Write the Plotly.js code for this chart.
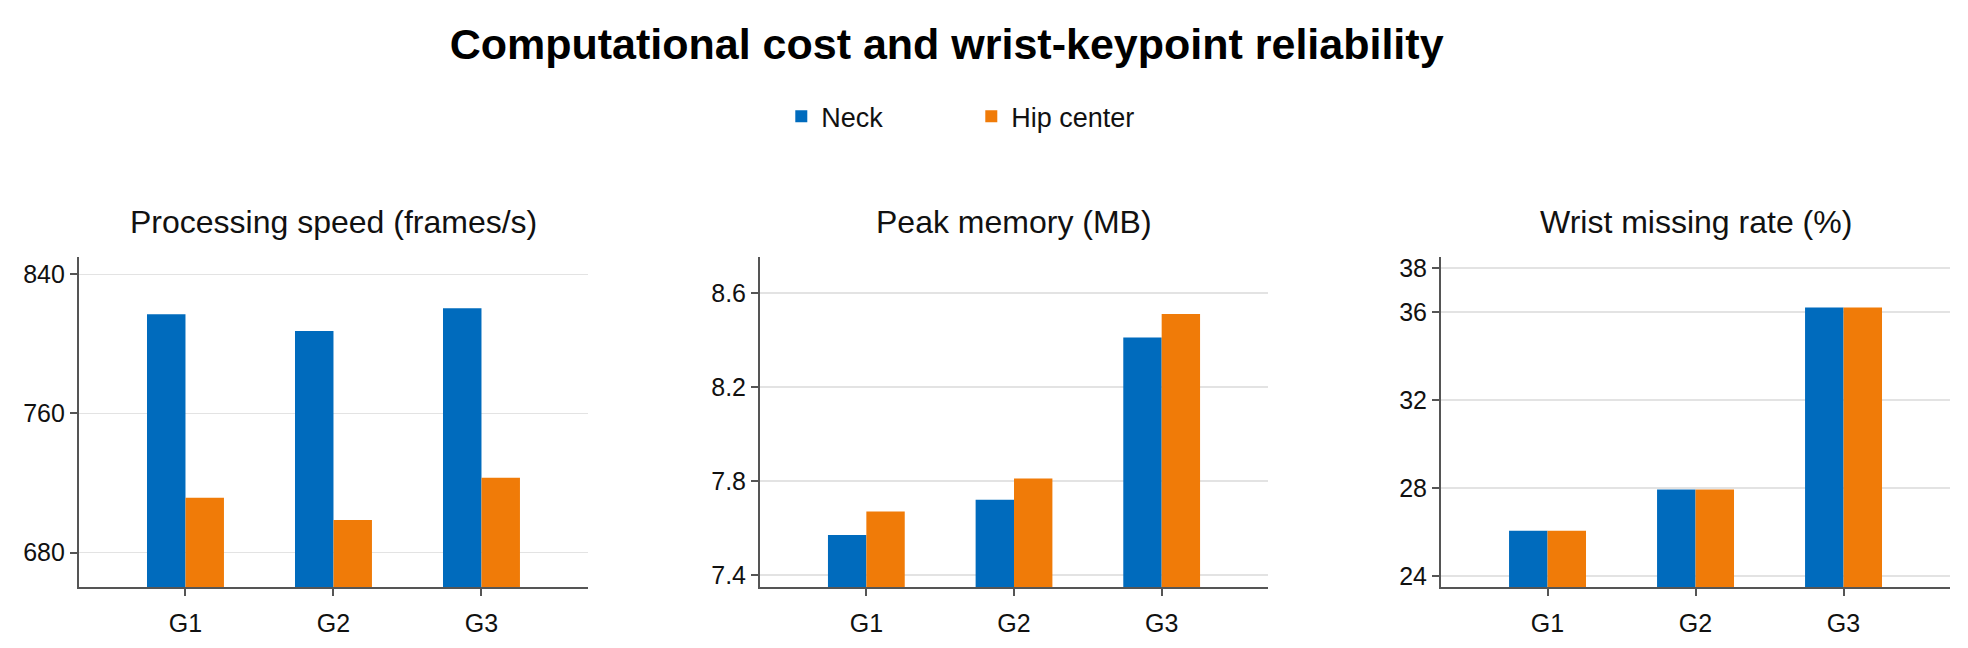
<!DOCTYPE html>
<html>
<head>
<meta charset="utf-8">
<script src="https://cdn.plot.ly/plotly-3.0.1.min.js"></script>
<style>
  html, body { margin: 0; padding: 0; background: #fff; }
  #plot { width: 1968px; height: 648px; }
</style>
</head>
<body>
<div id="plot"></div>
<script>
// Data
const groups = ['G1', 'G2', 'G3'];
const seriesNames = ['Neck', 'Hip center'];

const speedNeck = [817.0, 807.4, 820.5];
const speedHip = [711.6, 698.8, 723.1];

const memNeck = [7.57, 7.72, 8.41];
const memHip = [7.67, 7.81, 8.51];

const missNeck = [26.06, 27.94, 36.21];
const missHip = [26.06, 27.94, 36.21];

const panelTitles = ['Processing speed (frames/s)', 'Peak memory (MB)', 'Wrist missing rate (%)'];
const speedTicks = [680, 760, 840];
const memTicks = [7.4, 7.8, 8.2, 8.6];
const missTicks = [24, 28, 32, 36, 38];

// Helpers
const FONT = 'Liberation Sans, Arial, Helvetica, sans-serif';
const BLUE = '#006BBD';
const ORANGE = '#F07B08';
const AXIS = '#555555';

function makeBar(y, name, color, xa, ya, showleg) {
  return {
    type: 'bar',
    x: groups, y: y,
    name: name,
    xaxis: xa, yaxis: ya,
    legendgroup: name,
    showlegend: showleg,
    marker: { color: color, line: { width: 0 } },
    hoverinfo: 'x+y+name'
  };
}

function xAxis(domain, anchor) {
  return {
    domain: domain, anchor: anchor,
    type: 'category',
    range: [-0.72, 2.72],
    showline: true, linecolor: AXIS, linewidth: 2,
    ticks: 'outside', ticklen: 7, tickwidth: 2, tickcolor: AXIS,
    ticklabelstandoff: 6,
    showgrid: false, zeroline: false,
    tickfont: { family: FONT, size: 25, color: '#111' },
    automargin: false
  };
}

function yAxis(range, ticks, anchor) {
  return {
    domain: [0.094, 0.603], anchor: anchor,
    range: range,
    tickmode: 'array', tickvals: ticks,
    showline: true, linecolor: AXIS, linewidth: 2,
    ticks: 'outside', ticklen: 7, tickwidth: 2, tickcolor: AXIS,
    showgrid: true, gridcolor: '#e3e3e3', gridwidth: 1.5,
    zeroline: false,
    tickfont: { family: FONT, size: 25, color: '#111' },
    automargin: false
  };
}

const doms = [[0.0401, 0.2988], [0.3862, 0.6443], [0.7322, 0.9909]];

const traces = [
  makeBar(speedNeck, seriesNames[0], BLUE, 'x', 'y', true),
  makeBar(speedHip, seriesNames[1], ORANGE, 'x', 'y', true),
  makeBar(memNeck, seriesNames[0], BLUE, 'x2', 'y2', false),
  makeBar(memHip, seriesNames[1], ORANGE, 'x2', 'y2', false),
  makeBar(missNeck, seriesNames[0], BLUE, 'x3', 'y3', false),
  makeBar(missHip, seriesNames[1], ORANGE, 'x3', 'y3', false)
];

const annotations = panelTitles.map((t, i) => ({
  text: t,
  xref: 'paper', yref: 'paper',
  x: (doms[i][0] + doms[i][1]) / 2, y: 0.657,
  xanchor: 'center', yanchor: 'middle',
  showarrow: false,
  font: { family: FONT, size: 32, color: '#111' }
}));

const layout = {
  width: 1968, height: 648,
  margin: { t: 0, b: 0, l: 0, r: 0 },
  paper_bgcolor: '#fff', plot_bgcolor: '#fff',
  barmode: 'group', bargap: 0.48, bargroupgap: 0,
  title: {
    text: '<b>Computational cost and wrist-keypoint reliability</b>',
    x: 0.481, xanchor: 'center',
    y: 0.932, yanchor: 'middle', yref: 'container',
    font: { family: FONT, size: 43, color: '#000' }
  },
  legend: {
    orientation: 'h',
    x: 0.397, xanchor: 'left',
    y: 0.82, yanchor: 'middle',
    entrywidth: 145, entrywidthmode: 'pixels',
    font: { family: FONT, size: 27, color: '#111' },
    bgcolor: 'rgba(0,0,0,0)'
  },
  xaxis: xAxis(doms[0], 'y'),
  yaxis: yAxis([660.2, 849.8], speedTicks, 'x'),
  xaxis2: xAxis(doms[1], 'y2'),
  yaxis2: yAxis([7.348, 8.752], memTicks, 'x2'),
  xaxis3: xAxis(doms[2], 'y3'),
  yaxis3: yAxis([23.5, 38.5], missTicks, 'x3'),
  annotations: annotations
};

Plotly.newPlot('plot', traces, layout, { displayModeBar: false, staticPlot: true });
</script>
</body>
</html>
